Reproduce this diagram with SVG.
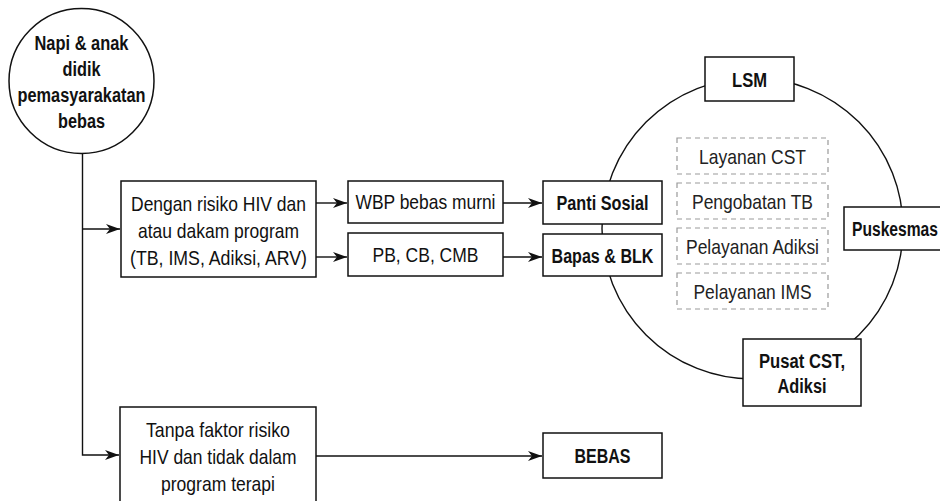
<svg xmlns="http://www.w3.org/2000/svg" width="940" height="501" viewBox="0 0 940 501">
<style>
text{font-family:"Liberation Sans","Arial",sans-serif;font-size:21px;fill:#111;text-anchor:middle}
.b{font-weight:bold;font-size:20px}
.box{fill:#fff;stroke:#111;stroke-width:1.5}
.dash{fill:#fff;stroke:#999;stroke-width:1.2;stroke-dasharray:5 4}
.dt{fill:#222}
.ln{fill:none;stroke:#111;stroke-width:1.4}
</style>
<defs>
<marker id="ah" markerUnits="userSpaceOnUse" markerWidth="16" markerHeight="12" refX="14" refY="5" orient="auto">
<path d="M0,0 L14,5 L0,10 L4,5 z" fill="#111"/>
</marker>
</defs>
<rect width="940" height="501" fill="#fff"/>
<g id="connectors">
<circle cx="752.5" cy="228.5" r="150.5" class="ln"/>
<path d="M82.5,153 V455 H119" class="ln" marker-end="url(#ah)"/>
<path d="M82.5,229 H120" class="ln" marker-end="url(#ah)"/>
<path d="M316,203 H347" class="ln" marker-end="url(#ah)"/>
<path d="M316,257 H347" class="ln" marker-end="url(#ah)"/>
<path d="M503,203 H542" class="ln" marker-end="url(#ah)"/>
<path d="M503,257 H542" class="ln" marker-end="url(#ah)"/>
<path d="M316,456 H542" class="ln" marker-end="url(#ah)"/>
</g>
<g id="napi">
<circle cx="81.5" cy="81" r="72.5" class="box"/>
<text class="b" x="81.5" y="50" textLength="94" lengthAdjust="spacingAndGlyphs">Napi &amp; anak</text>
<text class="b" x="81.5" y="76" textLength="38" lengthAdjust="spacingAndGlyphs">didik</text>
<text class="b" x="81.5" y="102" textLength="128" lengthAdjust="spacingAndGlyphs">pemasyarakatan</text>
<text class="b" x="81.5" y="128" textLength="47" lengthAdjust="spacingAndGlyphs">bebas</text>
</g>
<g id="dengan">
<rect x="121" y="181" width="195" height="96" class="box"/>
<text x="218.5" y="211" textLength="175" lengthAdjust="spacingAndGlyphs">Dengan risiko HIV dan</text>
<text x="218.5" y="238" textLength="161" lengthAdjust="spacingAndGlyphs">atau dakam program</text>
<text x="218.5" y="265" textLength="177" lengthAdjust="spacingAndGlyphs">(TB, IMS, Adiksi, ARV)</text>
</g>
<g id="tanpa">
<rect x="120" y="407" width="196" height="105" class="box"/>
<text x="218" y="437" textLength="144" lengthAdjust="spacingAndGlyphs">Tanpa faktor risiko</text>
<text x="218" y="464" textLength="157" lengthAdjust="spacingAndGlyphs">HIV dan tidak dalam</text>
<text x="218" y="491" textLength="114" lengthAdjust="spacingAndGlyphs">program terapi</text>
</g>
<g id="wbp">
<rect x="348" y="181" width="155" height="42" class="box"/>
<text x="425.5" y="209" textLength="140" lengthAdjust="spacingAndGlyphs">WBP bebas murni</text>
</g>
<g id="pb">
<rect x="348" y="233" width="155" height="43" class="box"/>
<text x="425.5" y="262" textLength="106" lengthAdjust="spacingAndGlyphs">PB, CB, CMB</text>
</g>
<g id="panti">
<rect x="543" y="181" width="119" height="43" class="box"/>
<text class="b" x="602.5" y="210" textLength="92" lengthAdjust="spacingAndGlyphs">Panti Sosial</text>
</g>
<g id="bapas">
<rect x="543" y="234" width="119" height="42" class="box"/>
<text class="b" x="602.5" y="263" textLength="102" lengthAdjust="spacingAndGlyphs">Bapas &amp; BLK</text>
</g>
<g id="bebas">
<rect x="543" y="433" width="119" height="45" class="box"/>
<text class="b" x="602.5" y="463" textLength="56" lengthAdjust="spacingAndGlyphs">BEBAS</text>
</g>
<g id="lsm">
<rect x="705" y="57" width="89" height="44" class="box"/>
<text class="b" x="749.5" y="87" textLength="35" lengthAdjust="spacingAndGlyphs">LSM</text>
</g>
<g id="puskesmas">
<rect x="844" y="207" width="104" height="43" class="box"/>
<text class="b" x="895" y="236" textLength="86" lengthAdjust="spacingAndGlyphs">Puskesmas</text>
</g>
<g id="pusat">
<rect x="743" y="339" width="118" height="67" class="box"/>
<text class="b" x="802" y="368" textLength="86" lengthAdjust="spacingAndGlyphs">Pusat CST,</text>
<text class="b" x="802" y="393" textLength="49" lengthAdjust="spacingAndGlyphs">Adiksi</text>
</g>
<g id="layanan-cst">
<rect x="677" y="138" width="151" height="36" class="dash"/>
<text class="dt" x="752.5" y="164" textLength="107" lengthAdjust="spacingAndGlyphs">Layanan CST</text>
</g>
<g id="pengobatan-tb">
<rect x="677" y="183" width="151" height="36" class="dash"/>
<text class="dt" x="752.5" y="209" textLength="121" lengthAdjust="spacingAndGlyphs">Pengobatan TB</text>
</g>
<g id="pelayanan-adiksi">
<rect x="677" y="228" width="151" height="36" class="dash"/>
<text class="dt" x="752.5" y="254" textLength="133" lengthAdjust="spacingAndGlyphs">Pelayanan Adiksi</text>
</g>
<g id="pelayanan-ims">
<rect x="677" y="273" width="151" height="36" class="dash"/>
<text class="dt" x="752.5" y="299" textLength="118" lengthAdjust="spacingAndGlyphs">Pelayanan IMS</text>
</g>
</svg>
